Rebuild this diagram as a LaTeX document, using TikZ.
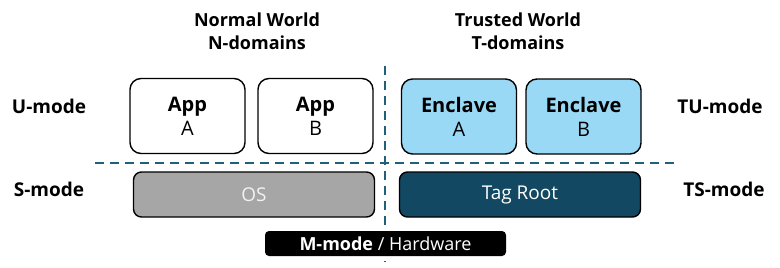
\documentclass[tikz,border=0pt]{standalone}
\usepackage{fontspec}
\setmainfont{Open Sans}
\usetikzlibrary{positioning}

\definecolor{enclaveblue}{RGB}{153,217,245}
\definecolor{rootteal}{RGB}{18,72,97}
\definecolor{osgray}{RGB}{166,166,166}
\definecolor{lineteal}{RGB}{32,96,122}

\begin{document}
\begin{tikzpicture}[x=1pt,y=-1pt,
  font=\fontsize{19}{22}\selectfont,
  mode/.style={font=\fontsize{19}{22}\selectfont\bfseries},
  world/.style={align=center,font=\fontsize{18}{23}\selectfont\bfseries},
  ubox/.style={draw=black,line width=1.4pt,rounded corners=11pt,
    minimum width=115pt,minimum height=75pt,align=center,
    font=\fontsize{20}{24}\selectfont},
  sbox/.style={draw=black,line width=1.4pt,rounded corners=8pt,
    minimum width=241pt,minimum height=45pt},
  split/.style={lineteal,line width=2.5pt,dash pattern=on 9pt off 6pt}]
\useasboundingbox (0,0) rectangle (780,268);

% Define the split lines.
\coordinate (VT) at (385,66);
\coordinate (VB) at (385,262);
\coordinate (HL) at (95,163);
\coordinate (HR) at (676,163);
\draw[split] (VT) -- (VB);
\draw[split] (HL) -- (HR);

% The two worlds.
\node[world] (NW) at (257,31) {Normal World\\N-domains};
\node[world] (TW) at (518,31) {Trusted World\\T-domains};

% U-mode boxes.
\node[ubox,fill=white] (AppA) at (187.5,116) {\textbf{App}\\A};
\node[ubox,fill=white] (AppB) at (315.5,116) {\textbf{App}\\B};
\node[ubox,fill=enclaveblue] (EnA) at (459,116.5) {\textbf{Enclave}\\A};
\node[ubox,fill=enclaveblue] (EnB) at (583.5,116.5) {\textbf{Enclave}\\B};

% S-mode boxes.
\node[sbox,fill=osgray,text=white!95!black] (OS) at (254,194.5) {OS};
\node[sbox,fill=rootteal,text=white] (Root) at (520,194.5) {Tag Root};

\node[fill=black,text=white,rounded corners=4pt,minimum width=241pt,
  minimum height=25pt,inner sep=0pt,font=\fontsize{18}{20}\selectfont]
  (HW) at (385.5,243.5) {\textbf{M-mode} / Hardware};

% Mode labels.
\node[mode] (U) at (49,106) {U-mode};
\node[mode] (S) at (49,189) {S-mode};
\node[mode] (TU) at (720,106) {TU-mode};
\node[mode] (TS) at (724,189) {TS-mode};
\end{tikzpicture}
\end{document}
